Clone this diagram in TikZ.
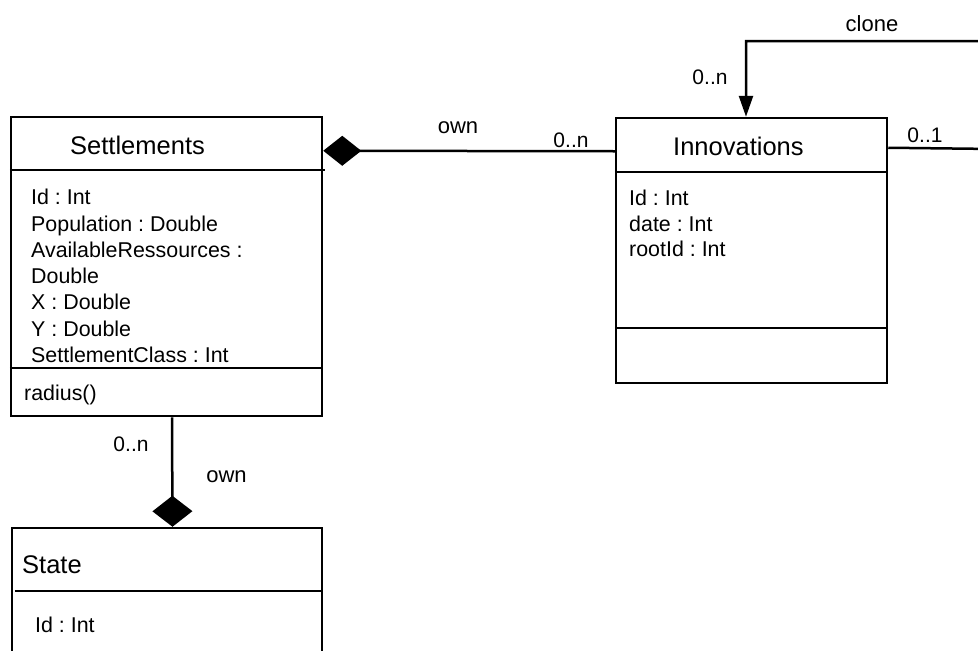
\documentclass[tikz,border=0pt]{standalone}
\usepackage{fontspec}
\setmainfont{Liberation Sans}
\frenchspacing
\usetikzlibrary{arrows.meta}
\begin{document}
\begin{tikzpicture}[x=1pt,y=-1pt,
  umlbox/.style={draw, line width=2.5pt, inner sep=0pt},
  sep/.style={line width=2.5pt},
  conn/.style={line width=2.5pt},
  titletxt/.style={font=\fontsize{25.5}{30}\selectfont, anchor=base west, inner sep=0pt},
  attr/.style={font=\fontsize{21.4}{26}\selectfont, anchor=base west, inner sep=0pt},
  lbl/.style={font=\fontsize{22}{26}\selectfont, anchor=base, inner sep=0pt},
  mult/.style={font=\fontsize{21}{26}\selectfont, anchor=base, inner sep=0pt}]
\useasboundingbox (0,0) rectangle (978,651);

% boxes
\node[umlbox, minimum width=311pt, minimum height=299pt] (sett) at (166.5,266.5) {};
\node[umlbox, minimum width=271pt, minimum height=265pt] (innov) at (751.5,250.5) {};
\node[umlbox, minimum width=310pt, minimum height=152pt] (state) at (167,604) {};

% compartments
\draw[sep] ([yshift=-54pt]sett.north west) -- ++(315,0);
\draw[sep] ([yshift=-252pt]sett.north west) -- ([yshift=-252pt]sett.north east);
\draw[sep] ([yshift=-55pt]innov.north west) -- ([yshift=-55pt]innov.north east);
\draw[sep] ([yshift=-211pt]innov.north west) -- ([yshift=-211pt]innov.north east);
\draw[sep] ([xshift=4pt,yshift=-64pt]state.north west) -- ([yshift=-64pt]state.north east);

% titles
\node[titletxt] (settT) at (70,154) {Settlements};
\node[titletxt] (innovT) at (673,155.5) {Innovations};
\node[titletxt] (stateT) at (22,573) {State};

% Settlements attributes
\node[attr] (s1) at (31,204.7) {Id : Int};
\node[attr] (s2) at (31,231) {Population : Double};
\node[attr] (s3) at (31,257.3) {AvailableRessources :};
\node[attr] (s4) at (31,283.6) {Double};
\node[attr] (s5) at (31,309.9) {X : Double};
\node[attr] (s6) at (31,336.2) {Y : Double};
\node[attr] (s7) at (31,362.5) {SettlementClass : Int};
\node[attr] (s8) at (24,400) {radius()};

% Innovations attributes
\node[attr] (i1) at (629,205.5) {Id : Int};
\node[attr] (i2) at (629,231) {date : Int};
\node[attr] (i3) at (629,256.5) {rootId : Int};

% State attributes
\node[attr] (st1) at (35,632) {Id : Int};

% connectors
\draw[conn, {Diamond[length=38pt,width=30pt]}-] ([yshift=-35pt]sett.north east) -- ([yshift=-34.5pt]innov.north west);
\draw[conn, -{Diamond[length=31pt,width=40pt]}] ([xshift=5.5pt]sett.south) -- ([xshift=5.5pt]state.north);
\coordinate (loopr) at (995,149);
\coordinate (loopt) at (995,41);
\draw[conn, -{Triangle[length=21pt,width=14pt]}] ([yshift=-31pt]innov.north east) -- (loopr) -- (loopt) -| ([xshift=-5.5pt]innov.north);

% labels
\node[lbl] (ownT) at (458,133) {own};
\node[mult] (mT) at (571,147) {0..n};
\node[lbl] (cloneL) at (872,31) {clone};
\node[mult] (mC) at (710,84) {0..n};
\node[mult] (m1) at (925,142) {0..1};
\node[mult] (mB) at (131,451) {0..n};
\node[lbl] (ownB) at (226.5,482) {own};
\end{tikzpicture}
\end{document}
